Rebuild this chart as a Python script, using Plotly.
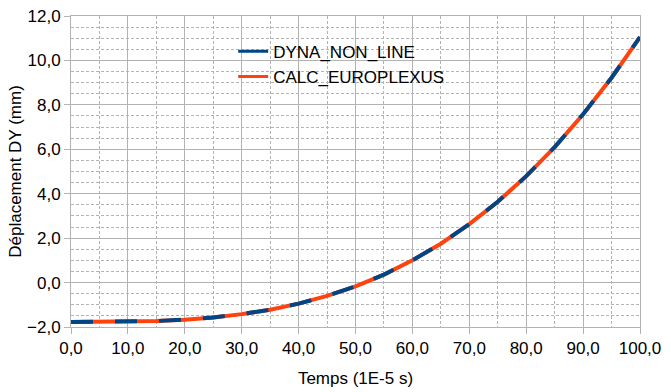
import plotly.graph_objects as go

temps = [0, 5, 10, 15, 20, 25, 30, 35, 40, 45, 50, 55, 60, 65, 70, 75, 80, 85, 90, 95, 100]
dyna_non_line = [-1.77, -1.77, -1.76, -1.73, -1.67, -1.57, -1.42, -1.22, -0.95, -0.60, -0.17,
                 0.36, 1.00, 1.75, 2.63, 3.64, 4.79, 6.10, 7.58, 9.22, 11.05]
calc_europlexus = [-1.77, -1.77, -1.76, -1.73, -1.67, -1.57, -1.42, -1.22, -0.95, -0.60, -0.17,
                   0.36, 1.00, 1.75, 2.63, 3.64, 4.79, 6.10, 7.58, 9.22, 11.05]

grid = "#b3b3b3"
font = "Liberation Sans, Arial, sans-serif"
blue = "#004586"
orange = "#ff420e"

fig = go.Figure()
fig.add_trace(go.Scatter(x=temps, y=calc_europlexus, mode="lines", name="CALC_EUROPLEXUS",
                         line=dict(color=orange, width=4), showlegend=False))
fig.add_trace(go.Scatter(x=temps, y=dyna_non_line, mode="lines", name="DYNA_NON_LINE",
                         line=dict(color=blue, width=4, dash="22px,22px"), showlegend=False))
# legend entries (solid keys, as in the reference)
fig.add_trace(go.Scatter(x=[None], y=[None], mode="lines", name="DYNA_NON_LINE",
                         line=dict(color=blue, width=3), legendrank=1))
fig.add_trace(go.Scatter(x=[None], y=[None], mode="lines", name="CALC_EUROPLEXUS",
                         line=dict(color=orange, width=3), legendrank=2))

fig.update_layout(
    width=671, height=392,
    margin=dict(l=71, r=31, t=16, b=65),
    paper_bgcolor="white", plot_bgcolor="white",
    separators=", ",
    font=dict(family=font, size=17, color="#000000"),
    showlegend=True,
    legend=dict(x=0.285, y=0.943, xanchor="left", yanchor="top", bgcolor="rgba(0,0,0,0)",
                font=dict(size=17), tracegroupgap=0, itemwidth=30),
    xaxis=dict(range=[0, 100], dtick=10, tick0=0, tickformat=".1f", automargin=False,
               showgrid=True, gridcolor=grid, gridwidth=1,
               minor=dict(dtick=5, showgrid=True, gridcolor=grid, griddash="3px,2px", gridwidth=1),
               ticks="outside", ticklen=6, tickcolor=grid,
               showline=True, linecolor=grid, mirror=True, zeroline=False,
               title=dict(text="Temps (1E-5 s)", font=dict(size=17), standoff=14)),
    yaxis=dict(range=[-2, 12], dtick=2, tick0=0, tickformat=".1f", automargin=False,
               showgrid=True, gridcolor=grid, gridwidth=1,
               minor=dict(dtick=0.5, showgrid=True, gridcolor=grid, griddash="3px,2px", gridwidth=1),
               ticks="outside", ticklen=6, tickcolor=grid,
               showline=True, linecolor=grid, mirror=True, zeroline=False,
               title=dict(text="Déplacement DY (mm)", font=dict(size=17), standoff=1)),
)

fig.write_html("out.html", config={"displayModeBar": False},
               post_script="document.body.style.margin='0';")
